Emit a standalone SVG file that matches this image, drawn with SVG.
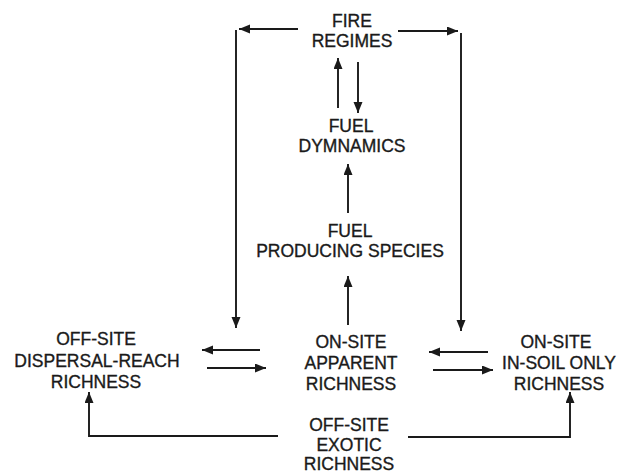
<svg xmlns="http://www.w3.org/2000/svg" width="619" height="474" viewBox="0 0 619 474">
<style>
text{font-family:"Liberation Sans",Arial,sans-serif;font-size:17.5px;fill:#1a1a1a;stroke:#1a1a1a;stroke-width:0.35;text-anchor:middle}
.c line,.c path{stroke:#1a1a1a;stroke-width:1.9;fill:none}
</style>
<defs>
<marker id="ah" markerUnits="userSpaceOnUse" markerWidth="12" markerHeight="10" refX="11" refY="4.5" orient="auto">
<path d="M0,0 L11,4.5 L0,9 z" fill="#1a1a1a"/>
</marker>
</defs>
<rect width="619" height="474" fill="#fff"/>
<g id="fire"><text x="352" y="27">FIRE</text><text x="352" y="47">REGIMES</text></g>
<g id="fueldyn"><text x="351" y="132">FUEL</text><text x="352" y="152">DYMNAMICS</text></g>
<g id="fuelprod"><text x="350" y="237">FUEL</text><text x="350" y="257">PRODUCING SPECIES</text></g>
<g id="offsite-dispersal"><text x="96" y="345">OFF-SITE</text><text x="97" y="367">DISPERSAL-REACH</text><text x="96" y="388">RICHNESS</text></g>
<g id="onsite-apparent"><text x="351" y="348">ON-SITE</text><text x="351" y="369">APPARENT</text><text x="351" y="390">RICHNESS</text></g>
<g id="onsite-insoil"><text x="556" y="348">ON-SITE</text><text x="559" y="369">IN-SOIL ONLY</text><text x="559" y="390">RICHNESS</text></g>
<g id="offsite-exotic"><text x="349" y="431">OFF-SITE</text><text x="349" y="451">EXOTIC</text><text x="349" y="470">RICHNESS</text></g>
<g class="c" id="connectors">
<line x1="298" y1="29" x2="239" y2="29" marker-end="url(#ah)"/>
<line x1="236" y1="30" x2="236" y2="328" marker-end="url(#ah)"/>
<line x1="398" y1="31" x2="458" y2="31" marker-end="url(#ah)"/>
<line x1="461" y1="33" x2="461" y2="331" marker-end="url(#ah)"/>
<line x1="338" y1="108" x2="338" y2="58" marker-end="url(#ah)"/>
<line x1="358" y1="62" x2="358" y2="113" marker-end="url(#ah)"/>
<line x1="348" y1="213" x2="348" y2="164" marker-end="url(#ah)"/>
<line x1="348" y1="325" x2="348" y2="276" marker-end="url(#ah)"/>
<line x1="260" y1="350" x2="202" y2="350" marker-end="url(#ah)"/>
<line x1="207" y1="368" x2="266" y2="368" marker-end="url(#ah)"/>
<line x1="488" y1="352" x2="429" y2="352" marker-end="url(#ah)"/>
<line x1="433" y1="370" x2="493" y2="370" marker-end="url(#ah)"/>
<path d="M278,436 H89 V392" marker-end="url(#ah)"/>
<path d="M408,437 H570 V392" marker-end="url(#ah)"/>
</g>
</svg>
